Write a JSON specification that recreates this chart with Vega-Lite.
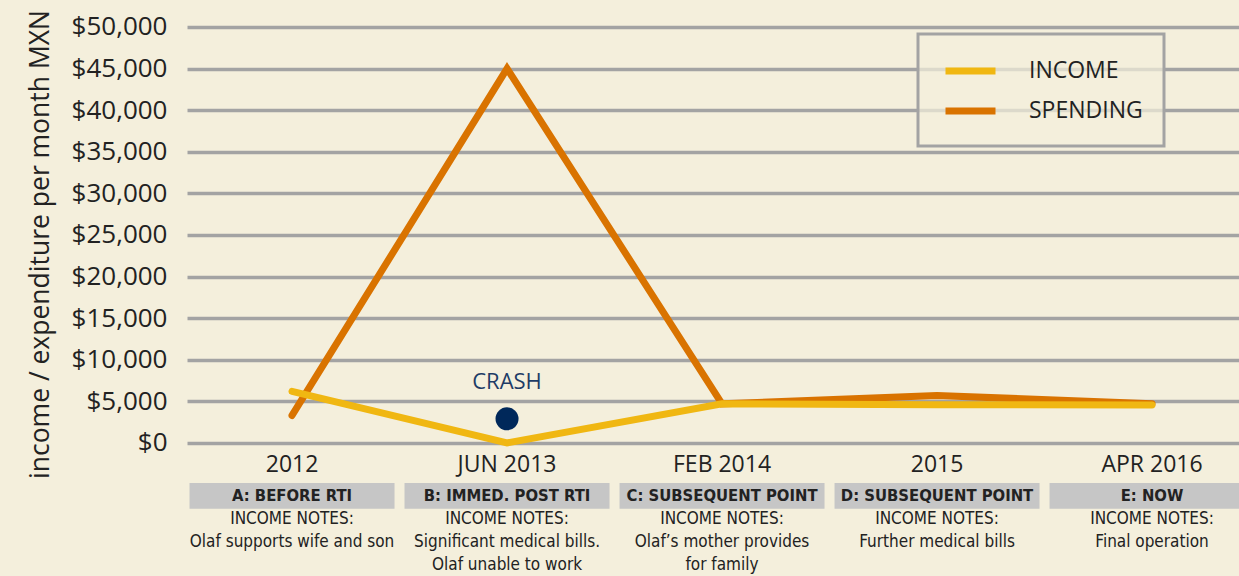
{
  "$schema": "https://vega.github.io/schema/vega-lite/v6.json",
  "width": 1052,
  "height": 576,
  "autosize": {"type": "none"},
  "padding": {"left": 187, "top": 0, "right": 0, "bottom": 0},
  "background": "#f4efdc",
  "config": {
    "view": {"stroke": null},
    "font": "Open Sans",
    "legend": {
      "orient": "none",
      "legendX": 731,
      "legendY": 34,
      "title": null,
      "strokeColor": "#a3a3a3",
      "strokeWidth": 3,
      "fillColor": "rgba(244,239,220,0.7)",
      "padding": 21,
      "symbolType": "M-0.76,0H3.24",
      "symbolSize": 625,
      "symbolStrokeWidth": 7,
      "labelFont": "Open Sans",
      "labelFontSize": 23,
      "labelColor": "#222222",
      "labelOffset": 58,
      "rowPadding": 10
    }
  },
  "datasets": {
    "series": [
      {"period": "2012", "series": "SPENDING", "value": 3300},
      {"period": "JUN 2013", "series": "SPENDING", "value": 45000},
      {"period": "FEB 2014", "series": "SPENDING", "value": 4700},
      {"period": "2015", "series": "SPENDING", "value": 5700},
      {"period": "APR 2016", "series": "SPENDING", "value": 4700},
      {"period": "2012", "series": "INCOME", "value": 6200},
      {"period": "JUN 2013", "series": "INCOME", "value": 0},
      {"period": "FEB 2014", "series": "INCOME", "value": 4700},
      {"period": "2015", "series": "INCOME", "value": 4600},
      {"period": "APR 2016", "series": "INCOME", "value": 4550}
    ],
    "events": [
      {"period": "JUN 2013", "label": "CRASH", "value": 2900}
    ],
    "notes": [
      {"period": "2012", "stage": "A: BEFORE RTI", "note": "INCOME NOTES:\nOlaf supports wife and son"},
      {"period": "JUN 2013", "stage": "B: IMMED. POST RTI", "note": "INCOME NOTES:\nSignificant medical bills.\nOlaf unable to work"},
      {"period": "FEB 2014", "stage": "C: SUBSEQUENT POINT", "note": "INCOME NOTES:\nOlaf’s mother provides\nfor family"},
      {"period": "2015", "stage": "D: SUBSEQUENT POINT", "note": "INCOME NOTES:\nFurther medical bills"},
      {"period": "APR 2016", "stage": "E: NOW", "note": "INCOME NOTES:\nFinal operation"}
    ]
  },
  "encoding": {
    "x": {
      "field": "period",
      "type": "ordinal",
      "scale": {"type": "point", "domain": ["2012", "JUN 2013", "FEB 2014", "2015", "APR 2016"], "padding": 0.4465, "align": 0.547},
      "axis": null
    }
  },
  "layer": [
    {
      "data": {"name": "series"},
      "mark": {"type": "line", "strokeWidth": 7, "opacity": 0},
      "encoding": {
        "y": {
          "field": "value",
          "type": "quantitative",
          "scale": {"domain": [-16000, 53245], "nice": false, "zero": false},
          "axis": {
            "values": [0, 5000, 10000, 15000, 20000, 25000, 30000, 35000, 40000, 45000, 50000],
            "format": "$,.0f",
            "domain": false,
            "ticks": false,
            "labelPadding": 20,
            "labelFont": "Open Sans",
            "labelFontSize": 26,
            "labelColor": "#222222",
            "grid": true,
            "gridColor": "#a3a3a3",
            "gridWidth": 3.5,
            "title": "income / expenditure per month MXN",
            "titleFont": "Open Sans",
            "titleFontSize": 26.5,
            "titleFontWeight": "normal",
            "titleColor": "#222222",
            "titleX": -147,
            "titleY": 244,
            "titleAlign": "center",
            "titleBaseline": "middle"
          }
        },
        "detail": {"field": "series"}
      }
    },
    {
      "data": {"name": "notes"},
      "mark": {"type": "bar", "width": 205, "color": "#c6c6c6"},
      "encoding": {
        "y": {"datum": -4810, "type": "quantitative"},
        "y2": {"datum": -7930}
      }
    },
    {
      "data": {"name": "notes"},
      "mark": {"type": "text", "fontSize": 23, "color": "#222222", "baseline": "middle"},
      "encoding": {
        "y": {"datum": -2650, "type": "quantitative"},
        "text": {"field": "period"}
      }
    },
    {
      "data": {"name": "notes"},
      "mark": {"type": "text", "font": "DejaVu Sans Condensed, sans-serif", "fontWeight": "bold", "fontSize": 16.5, "color": "#222222", "baseline": "middle"},
      "encoding": {
        "y": {"datum": -6430, "type": "quantitative"},
        "text": {"field": "stage"}
      }
    },
    {
      "data": {"name": "notes"},
      "mark": {"type": "text", "font": "DejaVu Sans Condensed, sans-serif", "fontSize": 17, "color": "#222222", "baseline": "top", "lineBreak": "\n", "lineHeight": 23},
      "encoding": {
        "y": {"datum": -8200, "type": "quantitative"},
        "text": {"field": "note"}
      }
    },
    {
      "mark": {"type": "rule", "color": "#00264f", "strokeWidth": 4},
      "encoding": {"y": {"datum": 0, "type": "quantitative"}, "x": {"value": 0}, "x2": {"value": 1052}}
    },
    {
      "data": {"name": "series"},
      "mark": {"type": "line", "strokeWidth": 7, "strokeCap": "round", "strokeJoin": "miter"},
      "encoding": {
        "y": {"field": "value", "type": "quantitative"},
        "color": {
          "field": "series",
          "type": "nominal",
          "scale": {"domain": ["INCOME", "SPENDING"], "range": ["#f0b712", "#d97300"]}
        }
      }
    },
    {
      "data": {"name": "events"},
      "mark": {"type": "circle", "size": 530, "color": "#00285a", "opacity": 1},
      "encoding": {
        "y": {"field": "value", "type": "quantitative"}
      }
    },
    {
      "data": {"name": "events"},
      "mark": {"type": "text", "fontSize": 22, "color": "#1e3c66", "baseline": "middle"},
      "encoding": {
        "y": {"datum": 7300, "type": "quantitative"},
        "text": {"field": "label"}
      }
    }
  ]
}
